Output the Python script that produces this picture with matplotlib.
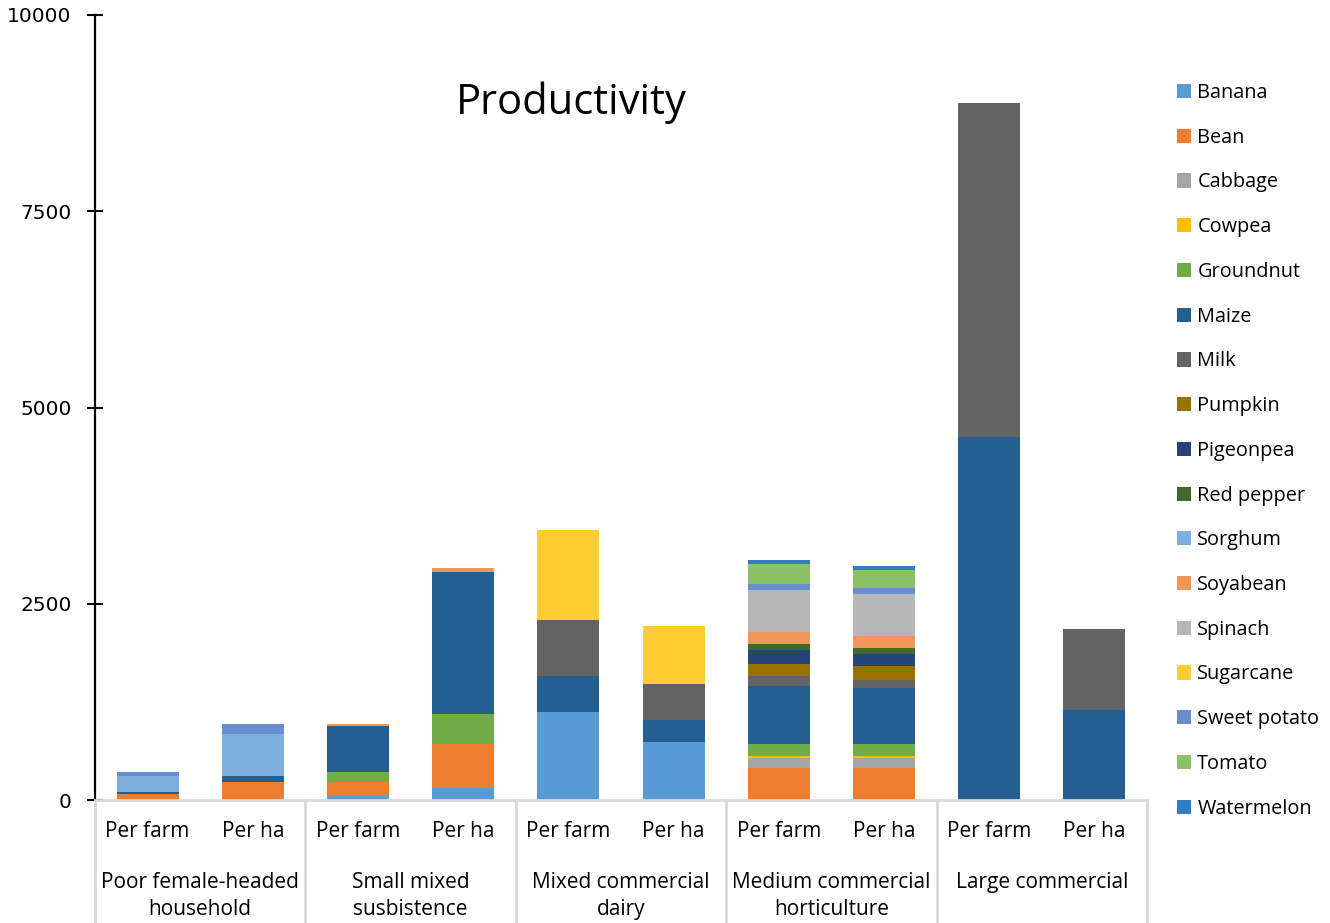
import matplotlib
matplotlib.use("Agg")
import matplotlib.pyplot as plt
import numpy as np

# Farm types (one list entry per text line) and the two measures per type
groups = [["Poor female-headed", "household"],
          ["Small mixed", "susbistence"],
          ["Mixed commercial", "dairy"],
          ["Medium commercial", "horticulture"],
          ["Large commercial"]]
measures = ["Per farm", "Per ha"]

# Stacked crop values, one entry per bar (group x measure)
crops = ["Banana", "Bean", "Cabbage", "Cowpea", "Groundnut", "Maize", "Milk",
         "Pumpkin", "Pigeonpea", "Red pepper", "Sorghum", "Soyabean",
         "Spinach", "Sugarcane", "Sweet potato", "Tomato", "Watermelon"]

banana       = [0,   0,   51,  153,  1121, 739, 0,   0,   0,    0]
bean         = [76,  229, 178, 560,  0,    0,   408, 408, 0,    0]
cabbage      = [0,   0,   0,   0,    0,    0,   127, 127, 0,    0]
cowpea       = [0,   0,   0,   0,    0,    0,   25,  25,  0,    0]
groundnut    = [0,   0,   127, 382,  0,    0,   153, 153, 0,    0]
maize        = [25,  76,  586, 1809, 459,  280, 739, 713, 4624, 1141]
milk         = [0,   0,   0,   0,    713,  459, 127, 102, 4255, 1043]
pumpkin      = [0,   0,   0,   0,    0,    0,   153, 178, 0,    0]
pigeonpea    = [0,   0,   0,   0,    0,    0,   178, 153, 0,    0]
red_pepper   = [0,   0,   0,   0,    0,    0,   76,  76,  0,    0]
sorghum      = [204, 535, 0,   0,    0,    0,   0,   0,   0,    0]
soyabean     = [0,   0,   25,  51,   0,    0,   153, 153, 0,    0]
spinach      = [0,   0,   0,   0,    0,    0,   535, 535, 0,    0]
sugarcane    = [0,   0,   0,   0,    1147, 739, 0,   0,   0,    0]
sweet_potato = [51,  127, 0,   0,    0,    0,   76,  76,  0,    0]
tomato       = [0,   0,   0,   0,    0,    0,   255, 229, 0,    0]
watermelon   = [0,   0,   0,   0,    0,    0,   51,  51,  0,    0]

series = [banana, bean, cabbage, cowpea, groundnut, maize, milk, pumpkin,
          pigeonpea, red_pepper, sorghum, soyabean, spinach, sugarcane,
          sweet_potato, tomato, watermelon]

colors = ["#5B9BD5", "#ED7D31", "#A5A5A5", "#FFC000", "#70AD47", "#255E91",
          "#636363", "#997300", "#264478", "#43682B", "#7CAFDD", "#F1975A",
          "#B7B7B7", "#FFCD33", "#698ED0", "#8CC168", "#327DC2"]

y_ticks = [0, 2500, 5000, 7500, 10000]

plt.rcParams["font.family"] = ["Open Sans", "DejaVu Sans"]

fig = plt.figure(figsize=(13.3, 9.23), dpi=100)
ax = fig.add_axes([95 / 1330, 1 - 800 / 923, (1147 - 95) / 1330, 785 / 923])

n_bars = len(groups) * len(measures)
x = np.arange(n_bars) + 0.5
bottom = np.zeros(n_bars)
for name, vals, col in zip(crops, series, colors):
    v = np.array(vals, dtype=float)
    ax.bar(x, v, width=0.59, bottom=bottom, color=col, label=name,
           linewidth=0)
    bottom += v

ax.set_xlim(0, n_bars)
ax.set_ylim(0, 10000)
ax.set_yticks(y_ticks)
ax.set_yticklabels([str(t) for t in y_ticks])
ax.tick_params(axis="y", direction="inout", length=12, width=1.5,
               pad=11, colors="black", labelsize=14.5,
               labelfontfamily="DejaVu Sans")
ax.set_xticks([])

for s in ("top", "right"):
    ax.spines[s].set_visible(False)
ax.spines["left"].set_linewidth(1.6)
ax.spines["left"].set_color("black")
ax.spines["bottom"].set_linewidth(2)
ax.spines["bottom"].set_color("#D9D9D9")

# Two-level category axis
trans = ax.get_xaxis_transform()
for i in range(n_bars):
    ax.text(x[i], -0.0395, measures[i % 2], transform=trans, ha="center",
            va="center", fontsize=15, color="black")
line_y = [-0.1057, -0.1401]
for g, lines in enumerate(groups):
    for ly, line in zip(line_y, lines):
        ax.text(2 * g + 1, ly, line, transform=trans, ha="center",
                va="center", fontsize=15, color="black")
for b in range(0, n_bars + 1, 2):
    ax.plot([b, b], [0, -0.16], transform=trans, color="#D9D9D9",
            linewidth=2, clip_on=False)

fig.text(571 / 1330, 1 - 103 / 923, "Productivity", ha="center",
         va="center", fontsize=30)

ax.legend(loc="upper left", bbox_to_anchor=(1177 / 1330, 1 - 83 / 923),
          bbox_transform=fig.transFigure, frameon=False, fontsize=14.3,
          handlelength=0.72, handleheight=0.72, handletextpad=0.3,
          labelspacing=1.245, borderaxespad=0, borderpad=0)

fig.savefig("out.png", dpi=100)
